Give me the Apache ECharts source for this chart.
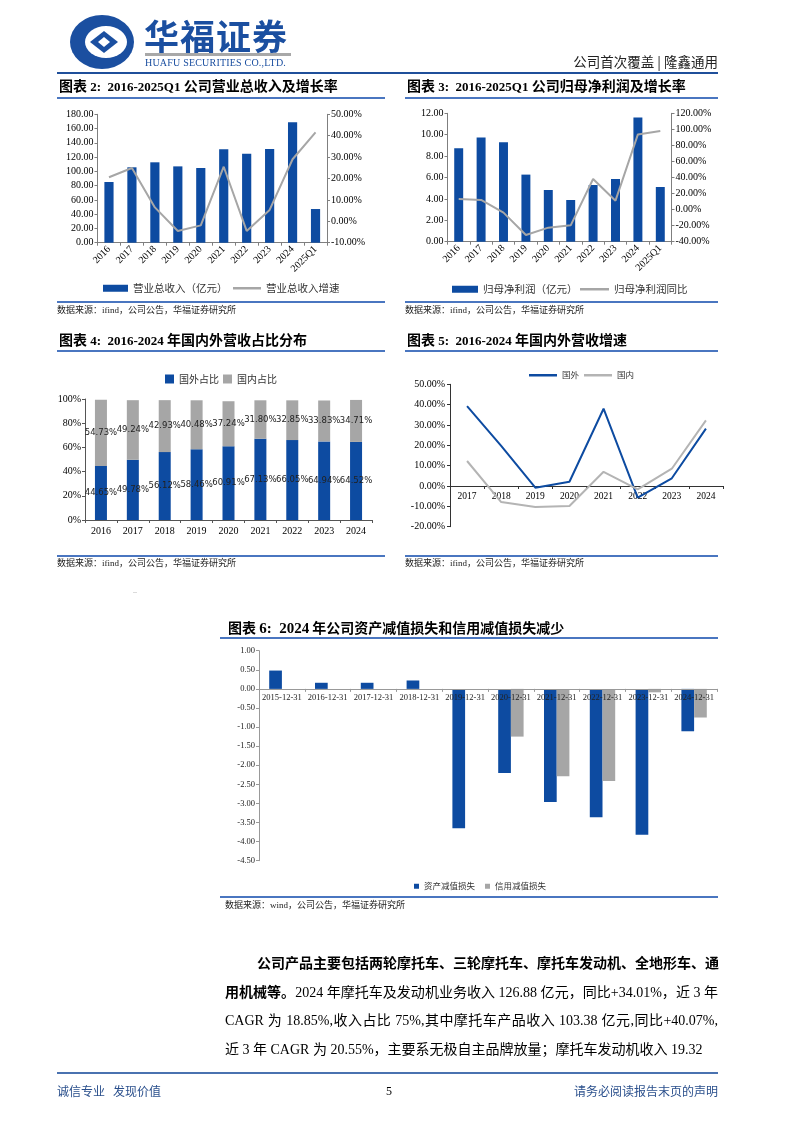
<!DOCTYPE html>
<html><head><meta charset="utf-8">
<script src="https://cdn.jsdelivr.net/npm/echarts@6.0.0/dist/echarts.min.js"></script>
<style>
html,body{margin:0;padding:0;background:#fff;}
#page{position:relative;width:794px;height:1123px;overflow:hidden;}
#chart{position:absolute;left:0;top:0;width:794px;height:1123px;}
.t{position:absolute;white-space:nowrap;font-family:"Liberation Serif","Noto Sans CJK SC",serif;color:#000;}
.ttl{font-weight:bold;font-size:14px;line-height:16px;font-family:"Noto Sans CJK SC";}
.ttl .l{font-family:"Liberation Serif";font-size:13px;}
.src{font-size:9px;line-height:11px;font-family:"Liberation Serif","Noto Sans CJK SC",serif;color:#222;}
.ln{position:absolute;height:1.5px;background:#4a76c0;}
.body{position:absolute;left:225px;width:493px;font-size:14px;line-height:20px;font-family:"Liberation Serif","Noto Sans CJK SC",serif;color:#000;white-space:nowrap;}
.jl{text-align:justify;text-align-last:justify;}
</style></head>
<body><div id="page">
<div id="chart"></div>

<!-- header -->
<svg style="position:absolute;left:68px;top:13px" width="70" height="58" viewBox="0 0 70 58">
  <ellipse cx="34" cy="29" rx="32" ry="27" fill="#1b4fa0"/>
  <ellipse cx="38" cy="29" rx="21" ry="16" fill="#fff"/>
  <path d="M22 29 L36 18 L50 29 L36 40 Z" fill="#1b4fa0"/>
  <path d="M30 29 L36 24 L42 29 L36 34 Z" fill="#fff"/>
</svg>
<div class="t" style="left:144px;top:14px;font-size:35px;line-height:42px;font-weight:bold;color:#1b4fa0;font-family:'Noto Sans CJK SC';letter-spacing:1px;">华福证券</div>
<div style="position:absolute;left:145px;top:53px;width:146px;height:3px;background:#a8a8a8;"></div>
<div class="t" style="left:145px;top:57px;font-size:10px;line-height:12px;color:#1b4fa0;letter-spacing:0.2px;">HUAFU SECURITIES CO.,LTD.</div>
<div class="t" style="right:76px;top:52px;font-size:13.5px;line-height:18px;color:#222;font-family:'Noto Sans CJK SC';">公司首次覆盖 | 隆鑫通用</div>
<div style="position:absolute;left:57px;top:72px;width:661px;height:2px;background:#1f4f9a;"></div>

<!-- chart titles row 1 -->
<div class="t ttl" style="left:59px;top:77px;">图表 <span class="l">2:&nbsp;&nbsp;2016-2025Q1</span> 公司营业总收入及增长率</div>
<div class="t ttl" style="left:407px;top:77px;">图表 <span class="l">3:&nbsp;&nbsp;2016-2025Q1</span> 公司归母净利润及增长率</div>
<div class="ln" style="left:57px;top:97px;width:328px;"></div>
<div class="ln" style="left:405px;top:97px;width:313px;"></div>
<div class="ln" style="left:57px;top:301px;width:328px;"></div>
<div class="ln" style="left:405px;top:301px;width:313px;"></div>
<div class="t src" style="left:57px;top:305px;">数据来源：ifind，公司公告，华福证券研究所</div>
<div class="t src" style="left:405px;top:305px;">数据来源：ifind，公司公告，华福证券研究所</div>

<!-- chart titles row 2 -->
<div class="t ttl" style="left:59px;top:331px;">图表 <span class="l">4:&nbsp;&nbsp;2016-2024</span> 年国内外营收占比分布</div>
<div class="t ttl" style="left:407px;top:331px;">图表 <span class="l">5:&nbsp;&nbsp;2016-2024</span> 年国内外营收增速</div>
<div class="ln" style="left:57px;top:350px;width:328px;"></div>
<div class="ln" style="left:405px;top:350px;width:313px;"></div>
<div class="ln" style="left:57px;top:555px;width:328px;"></div>
<div class="ln" style="left:405px;top:555px;width:313px;"></div>
<div class="t src" style="left:57px;top:558px;">数据来源：ifind，公司公告，华福证券研究所</div>
<div class="t src" style="left:405px;top:558px;">数据来源：ifind，公司公告，华福证券研究所</div>
<div class="t" style="left:133px;top:588px;font-size:6px;line-height:8px;color:#aaa;">--</div>

<!-- chart 6 -->
<div class="t ttl" style="left:228px;top:619px;font-size:14px;">图表 <span class="l" style="font-size:15px;">6:&nbsp;&nbsp;2024</span> 年公司资产减值损失和信用减值损失减少</div>
<div class="ln" style="left:220px;top:637px;width:498px;"></div>
<div class="ln" style="left:220px;top:896px;width:498px;"></div>
<div class="t src" style="left:225px;top:900px;">数据来源：wind，公司公告，华福证券研究所</div>

<!-- body text -->
<div class="body jl" style="top:954px;padding-left:32px;width:461px;font-weight:bold;">公司产品主要包括两轮摩托车、三轮摩托车、摩托车发动机、全地形车、通</div>
<div class="body jl" style="top:983px;"><b>用机械等。</b>2024 年摩托车及发动机业务收入 126.88 亿元，同比+34.01%，近 3 年</div>
<div class="body jl" style="top:1011px;">CAGR 为 18.85%,收入占比 75%,其中摩托车产品收入 103.38 亿元,同比+40.07%,</div>
<div class="body" style="top:1040px;">近 3 年 CAGR 为 20.55%，主要系无极自主品牌放量；摩托车发动机收入 19.32</div>

<!-- footer -->
<div style="position:absolute;left:57px;top:1072px;width:661px;height:2px;background:#4a72b0;"></div>
<div class="t" style="left:57px;top:1083px;font-size:12px;line-height:16px;color:#2a4f8c;font-family:'Noto Sans CJK SC';">诚信专业&nbsp;&nbsp;&nbsp;发现价值</div>
<div class="t" style="left:386px;top:1083px;font-size:12px;line-height:16px;">5</div>
<div class="t" style="right:76px;top:1083px;font-size:12px;line-height:16px;color:#2a4f8c;font-family:'Noto Sans CJK SC';">请务必阅读报告末页的声明</div>
</div>

<script>
// ---- data ----
const years10 = ['2016','2017','2018','2019','2020','2021','2022','2023','2024','2025Q1'];
const revenue = [85.1,105.7,112.7,107.0,104.7,130.9,124.8,131.4,168.8,47.2];
const revenueGrowth = [20.6,24.9,6.5,-4.5,-1.9,25.5,-4.5,5.3,29.0,41.6];
const netProfit = [8.73,9.73,9.29,6.27,4.83,3.90,5.30,5.86,11.60,5.11];
const netProfitGrowth = [13.2,12.0,-3.8,-31.7,-22.5,-19.6,38.1,11.1,93.7,98.0];
const years9 = ['2016','2017','2018','2019','2020','2021','2022','2023','2024'];
const foreignShare = [44.65,49.78,56.12,58.46,60.91,67.13,66.05,64.94,64.52];
const domesticShare = [54.73,49.24,42.93,40.48,37.24,31.80,32.85,33.83,34.71];
const years8 = ['2017','2018','2019','2020','2021','2022','2023','2024'];
const foreignGrowth = [39.3,19.7,-0.8,2.1,38.0,-5.7,3.8,28.2];
const domesticGrowth = [12.3,-7.9,-10.3,-9.8,7.0,-1.6,8.5,32.3];
const dates = ['2015-12-31','2016-12-31','2017-12-31','2018-12-31','2019-12-31','2020-12-31','2021-12-31','2022-12-31','2023-12-31','2024-12-31'];
const assetImpairment = [0.48,0.16,0.16,0.22,-3.65,-2.20,-2.96,-3.36,-3.82,-1.11];
const creditImpairment = [null,null,null,null,null,-1.25,-2.29,-2.41,-0.09,-0.75];

const BLUE = '#0d4ba1', GRAY = '#a6a6a6';
const SERIF = 'Liberation Serif', CJK = 'Noto Sans CJK SC';
const axisCol = '#7f7f7f';

function catAxis(grid, data, extra) {
  return Object.assign({
    type:'category', gridIndex:grid, data:data, boundaryGap:true,
    axisLine:{show:true, lineStyle:{color:axisCol, width:1}},
    axisTick:{show:true, alignWithLabel:false, length:3, lineStyle:{color:axisCol}},
    axisLabel:{show:true, interval:0, fontFamily:SERIF, fontSize:10, color:'#000', margin:5},
    splitLine:{show:false}
  }, extra||{});
}
function valAxis(grid, min, max, interval, fmt, pos, extra) {
  return Object.assign({
    type:'value', gridIndex:grid, min:min, max:max, interval:interval, position:pos,
    axisLine:{show:true, lineStyle:{color:axisCol, width:1}},
    axisTick:{show:true, length:3, lineStyle:{color:axisCol}},
    axisLabel:{show:true, fontFamily:SERIF, fontSize:10, color:'#000', margin:4, formatter:fmt},
    splitLine:{show:false}
  }, extra||{});
}
const f2 = v => v.toFixed(2);
const p2 = v => v.toFixed(2)+'%';
const p0 = v => v.toFixed(0)+'%';

// grid geometry for axes that sit on the zero line
const g5 = {left:450, top:384.3, width:273, height:142.4, min:-20, max:50};
const g6 = {left:259, top:650.7, width:458, height:210, min:-4.5, max:1};
const zeroOff5 = -g5.height * (0 - g5.min) / (g5.max - g5.min);
const zeroOff6 = -g6.height * (0 - g6.min) / (g6.max - g6.min);

const legText = (fs) => ({fontFamily:CJK, fontSize:fs, color:'#333'});

const chart = echarts.init(document.getElementById('chart'), null, {renderer:'canvas'});
chart.setOption({
  animation:false,
  backgroundColor:'transparent',
  grid:[
    {left:97.5, top:114.3, width:229.5, height:128.4},
    {left:447.5, top:113.3, width:224, height:128.4},
    {left:85, top:399, width:287, height:121},
    {left:g5.left, top:g5.top, width:g5.width, height:g5.height},
    {left:g6.left, top:g6.top, width:g6.width, height:g6.height}
  ],
  legend:[
    {data:['营业总收入（亿元）'], left:98, top:278, itemWidth:25, itemHeight:7, icon:'rect', textStyle:legText(10.5)},
    {data:['营业总收入增速'], left:228, top:278, itemWidth:28, itemHeight:2.5, icon:'rect', textStyle:legText(10.5)},
    {data:['归母净利润（亿元）'], left:447, top:279, itemWidth:26, itemHeight:7, icon:'rect', textStyle:legText(10.5)},
    {data:['归母净利润同比'], left:575, top:279, itemWidth:29, itemHeight:2.5, icon:'rect', textStyle:legText(10.5)},
    {data:['国外占比','国内占比'], left:160, top:369, itemWidth:9, itemHeight:9, itemGap:4, icon:'rect', textStyle:legText(10)},
    {data:['国外','国内'], left:524, top:366, itemWidth:28, itemHeight:2.5, itemGap:5, icon:'rect', textStyle:legText(8.5)},
    {data:['资产减值损失','信用减值损失'], left:409, top:877, itemWidth:5, itemHeight:5, itemGap:10, icon:'rect', textStyle:legText(8.5)}
  ],
  xAxis:[
    catAxis(0, years10, {axisLabel:{interval:0, rotate:45, fontFamily:SERIF, fontSize:10, color:'#000', margin:5}}),
    catAxis(1, years10, {axisLabel:{interval:0, rotate:45, fontFamily:SERIF, fontSize:10, color:'#000', margin:5}}),
    catAxis(2, years9, {axisLine:{show:true, lineStyle:{color:'#555'}}, axisTick:{show:true,length:3,lineStyle:{color:'#555'}},
      axisLabel:{interval:0, fontFamily:SERIF, fontSize:10, color:'#000', margin:6}}),
    catAxis(3, years8, {offset:zeroOff5, axisLine:{show:true, onZero:false, lineStyle:{color:'#333'}}, axisTick:{show:true,length:3,lineStyle:{color:'#333'}},
      axisLabel:{interval:0, fontFamily:SERIF, fontSize:9.5, color:'#000', margin:5}}),
    catAxis(4, dates, {offset:zeroOff6, z:10, axisLine:{show:true, onZero:false, lineStyle:{color:'#999'}}, axisTick:{show:true,length:3,lineStyle:{color:'#999'}},
      axisLabel:{interval:0, fontFamily:SERIF, fontSize:8.5, color:'#222', margin:4}})
  ],
  yAxis:[
    valAxis(0, 0, 180, 20, f2, 'left'),
    valAxis(0, -10, 50, 10, p2, 'right'),
    valAxis(1, 0, 12, 2, f2, 'left'),
    valAxis(1, -40, 120, 20, p2, 'right'),
    valAxis(2, 0, 100, 20, p0, 'left', {axisLine:{show:true,lineStyle:{color:'#555'}}, axisTick:{show:true,length:3,lineStyle:{color:'#555'}}}),
    valAxis(3, g5.min, g5.max, 10, p2, 'left', {axisLine:{show:true,lineStyle:{color:'#333'}}, axisTick:{show:true,length:3,lineStyle:{color:'#333'}},
      axisLabel:{fontFamily:SERIF, fontSize:10, color:'#000', margin:5, formatter:p2}}),
    valAxis(4, g6.min, g6.max, 0.5, f2, 'left', {axisLine:{show:true,lineStyle:{color:'#999'}}, axisTick:{show:true,length:3,lineStyle:{color:'#999'}},
      axisLabel:{fontFamily:SERIF, fontSize:8.5, color:'#222', margin:4, formatter:f2}})
  ],
  series:[
    {name:'营业总收入（亿元）', type:'bar', xAxisIndex:0, yAxisIndex:0, data:revenue, barWidth:'40%', itemStyle:{color:BLUE}},
    {name:'营业总收入增速', type:'line', xAxisIndex:0, yAxisIndex:1, data:revenueGrowth, symbol:'none', lineStyle:{color:GRAY, width:2}, itemStyle:{color:GRAY}},
    {name:'归母净利润（亿元）', type:'bar', xAxisIndex:1, yAxisIndex:2, data:netProfit, barWidth:'40%', itemStyle:{color:BLUE}},
    {name:'归母净利润同比', type:'line', xAxisIndex:1, yAxisIndex:3, data:netProfitGrowth, symbol:'none', lineStyle:{color:GRAY, width:2}, itemStyle:{color:GRAY}},
    {name:'国外占比', type:'bar', stack:'share', xAxisIndex:2, yAxisIndex:4, data:foreignShare, barWidth:12, itemStyle:{color:BLUE},
     label:{show:true, position:'inside', formatter:p=>p.value.toFixed(2)+'%', fontFamily:'DejaVu Sans', fontSize:8.5, color:'#222'}},
    {name:'国内占比', type:'bar', stack:'share', xAxisIndex:2, yAxisIndex:4, data:domesticShare, barWidth:12, itemStyle:{color:GRAY},
     label:{show:true, position:'inside', formatter:p=>p.value.toFixed(2)+'%', fontFamily:'DejaVu Sans', fontSize:8.5, color:'#222'}},
    {name:'国外', type:'line', xAxisIndex:3, yAxisIndex:5, data:foreignGrowth, symbol:'none', lineStyle:{color:BLUE, width:2}, itemStyle:{color:BLUE}},
    {name:'国内', type:'line', xAxisIndex:3, yAxisIndex:5, data:domesticGrowth, symbol:'none', lineStyle:{color:'#b4b4b4', width:2}, itemStyle:{color:'#b4b4b4'}},
    {name:'资产减值损失', type:'bar', xAxisIndex:4, yAxisIndex:6, data:assetImpairment, barWidth:12.7, barGap:'0%', z:-1, zlevel:-1, itemStyle:{color:BLUE}},
    {name:'信用减值损失', type:'bar', xAxisIndex:4, yAxisIndex:6, data:creditImpairment, barWidth:12.7, barGap:'0%', z:-1, zlevel:-1, itemStyle:{color:GRAY}}
  ]
});
</script>
</body></html>
